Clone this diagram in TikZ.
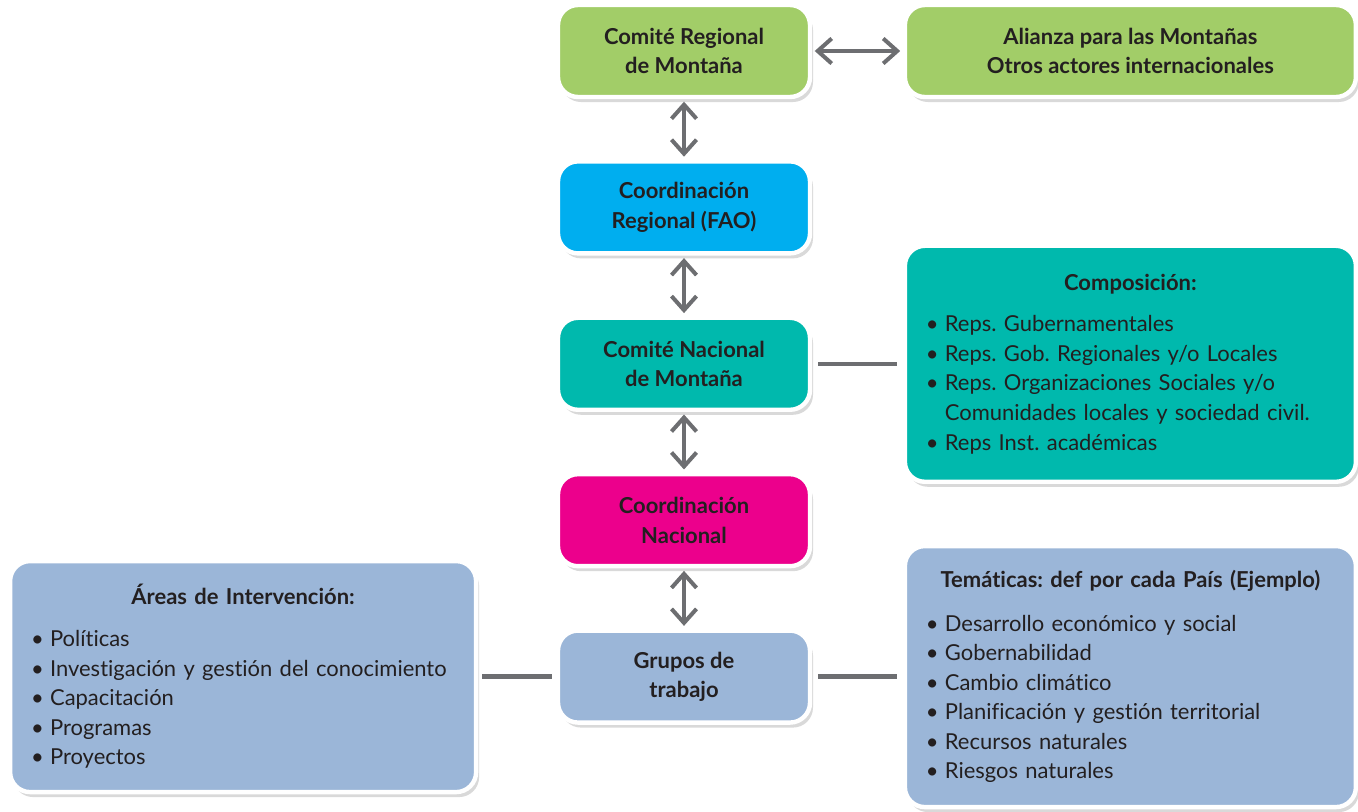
\documentclass[tikz,border=0pt]{standalone}
\usepackage{fontspec}
\setmainfont[Ligatures=NoCommon]{Lato}
\usetikzlibrary{positioning}
\usetikzlibrary{arrows.meta}
\usetikzlibrary{shadows}

\definecolor{verde}{HTML}{A2CD68}
\definecolor{azul}{HTML}{00AEEF}
\definecolor{turquesa}{HTML}{00B9AD}
\definecolor{fucsia}{HTML}{EC008C}
\definecolor{celeste}{HTML}{9BB6D8}
\definecolor{texto}{HTML}{231F20}
\definecolor{gris}{HTML}{6D6E71}

\newcommand{\tamano}{\fontsize{12.5pt}{16.8pt}\selectfont\frenchspacing}
\newcommand{\vin}{\makebox[0.38cm][l]{\textbullet}}

\tikzset{
  box/.style={rectangle, rounded corners=0.4cm, draw=white, line width=2.5pt,
    minimum width=5.04cm, minimum height=1.84cm, align=center, text=texto,
    font=\tamano\bfseries,
    drop shadow={shadow xshift=0.06cm, shadow yshift=-0.1cm, opacity=0.25, fill=black!60}},
  listbox/.style={box, align=left, inner xsep=0.42cm, font=\tamano},
  arr/.style={gris, line width=0.08cm, >={Straight Barb[length=0.28cm,width=0.5cm]}, <->,
    shorten <=0.05cm, shorten >=0.05cm},
  link/.style={gris, line width=0.09cm},
}

\begin{document}
\begin{tikzpicture}
  \useasboundingbox (0,0) rectangle (27.16,-16.22);
  %\draw[very thin,color=gray] (0,0) grid (27,-16);

  \node[box, fill=verde] (crm) at (13.68,-1.02) {Comité Regional\\de Montaña};
  \node[box, fill=verde, minimum width=9.02cm, right=1.81cm of crm] (alianza)
    {Alianza para las Montañas\\Otros actores internacionales};
  \node[box, fill=azul, below=1.2cm of crm] (coreg) {Coordinación\\Regional (FAO)};
  \node[box, fill=turquesa, below=1.2cm of coreg] (cnm) {Comité Nacional\\de Montaña};
  \node[box, fill=fucsia, below=1.2cm of cnm] (conac) {Coordinación\\Nacional};
  \node[box, fill=celeste, below=1.2cm of conac] (grupos) {Grupos de\\trabajo};

  \node[listbox, fill=turquesa, text width=8.18cm, minimum height=4.72cm, right=1.81cm of cnm] (comp)
    {{\centering\bfseries Composición:\par}\vspace{7pt}
     \vin Reps. Gubernamentales\\
     \vin Reps. Gob. Regionales y/o Locales\\
     \vin Reps. Organizaciones Sociales y/o\\
     \hspace*{0.38cm}Comunidades locales y sociedad civil.\\
     \vin Reps Inst. académicas};

  \node[listbox, fill=celeste, text width=8.18cm, minimum height=5.22cm, right=1.81cm of grupos] (tema)
    {{\centering\bfseries Temáticas: def por cada País (Ejemplo)\par}\vspace{8pt}
     \vin Desarrollo económico y social\\
     \vin Gobernabilidad\\
     \vin Cambio climático\\
     \vin Planificación y gestión territorial\\
     \vin Recursos naturales\\
     \vin Riesgos naturales};

  \node[listbox, fill=celeste, text width=8.48cm, minimum height=4.62cm, left=1.55cm of grupos] (areas)
    {{\centering\bfseries Áreas de Intervención:\par}\vspace{7pt}
     \vin Políticas\\
     \vin Investigación y gestión del conocimiento\\
     \vin Capacitación\\
     \vin Programas\\
     \vin Proyectos};

  % flechas
  \draw[arr] (crm) -- (alianza);
  \draw[arr] (crm) -- (coreg);
  \draw[arr] (coreg) -- (cnm);
  \draw[arr] (cnm) -- (conac);
  \draw[arr] (conac) -- (grupos);

  % lineas
  \draw[link, shorten <=0.12cm, shorten >=0.12cm] (cnm) -- (comp);
  \draw[link, shorten <=0.08cm, shorten >=0.08cm] (grupos) -- (areas);
  \draw[link, shorten <=0.12cm, shorten >=0.12cm] (grupos) -- (tema);
\end{tikzpicture}
\end{document}
